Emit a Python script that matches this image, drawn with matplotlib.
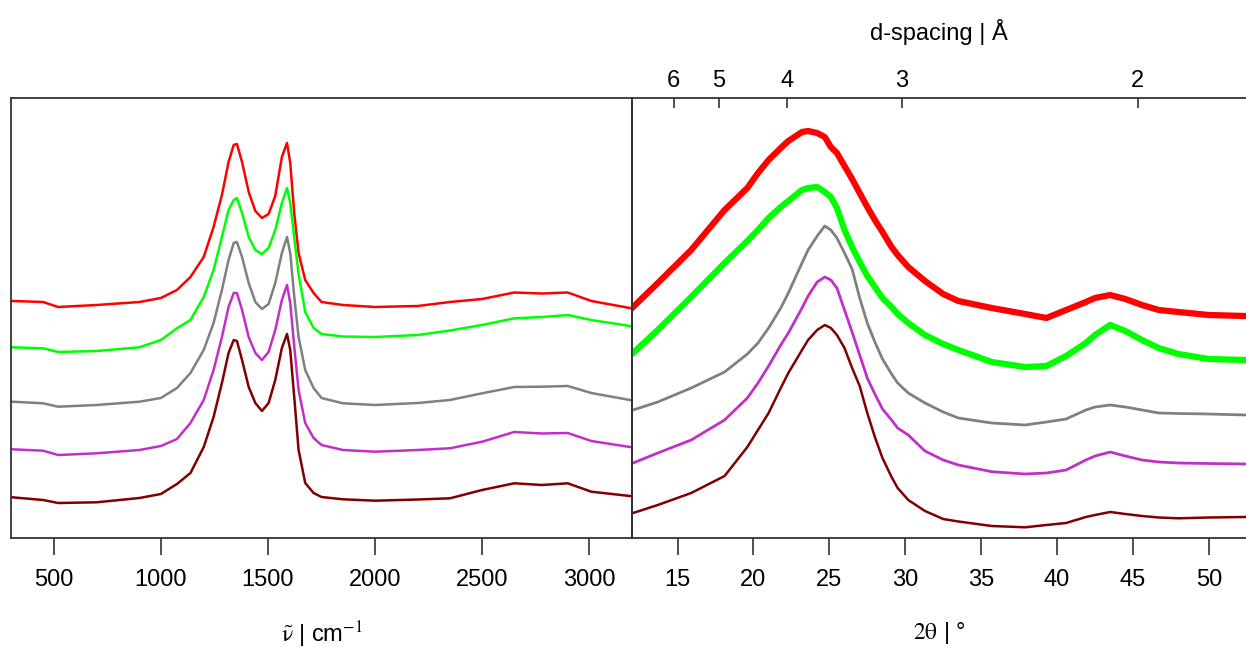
import numpy as np
import matplotlib
matplotlib.use('Agg')
import matplotlib.pyplot as plt

plt.rcParams['font.family'] = ['Liberation Sans', 'DejaVu Sans']
plt.rcParams['mathtext.fontset'] = 'stix'

# Raman spectra (left panel), arbitrary units, curves stacked
wavenumber = [305, 450, 520, 700, 900, 1000, 1075, 1138, 1200, 1246, 1285, 1316,
              1340, 1355, 1379, 1410, 1441, 1472, 1503, 1534, 1565, 1589, 1604,
              1623, 1643, 1674, 1713, 1750, 1850, 2000, 2200, 2350, 2500, 2650,
              2780, 2900, 3010, 3190]
raman_red = [237, 236, 231, 233, 236, 240, 248, 261, 281, 311, 343, 376,
             393, 394, 376, 346, 327, 320, 324, 342, 381, 395, 375,
             324, 285, 258, 245, 236, 233, 231, 232, 236, 239, 245.5,
             244.5, 245.5, 237, 230]
raman_green = [190.7, 189.7, 186, 187, 190.7, 198, 209.7, 218, 241, 268, 301, 328,
               338, 340, 325, 301, 288, 284, 290, 308, 335, 350, 335,
               300, 264, 226, 210, 204, 201.5, 201, 203, 207.5, 213, 219.7,
               221, 223, 218, 212]
raman_grey = [136.3, 134.7, 131.3, 133, 136.3, 140, 150, 165, 188, 215, 248, 278,
              295, 296, 281, 255, 236, 229, 234, 255, 285, 301, 285,
              241, 201, 168, 150, 140, 134.7, 133, 135, 138, 144.7, 151,
              151.3, 152, 145, 138]
raman_magenta = [88.7, 87.3, 83, 84.7, 88, 92, 99, 115, 138, 168, 201, 231,
                 245, 245, 228, 201, 185, 178, 186, 208, 238, 253, 235,
                 191, 148, 115, 100, 93, 88, 86.3, 88, 89.7, 96.3, 106,
                 104.5, 105, 97, 91]
raman_darkred = [40.7, 38, 35, 35.7, 40, 44, 54, 65, 91, 121, 155, 185,
                 198, 197, 178, 151, 135, 127, 135, 158, 190, 204, 188,
                 140, 88, 55, 45, 41, 38.7, 37.3, 38.5, 39.7, 48, 54.7,
                 53, 54.7, 46.3, 42]

# XRD patterns (right panel)
two_theta = [12.07, 13.7, 15.9, 18.1, 19.6, 20.3, 21.0, 21.8, 22.3, 23.2, 23.6,
             24.2, 24.7, 25.1, 25.5, 26.0, 26.5, 27.0, 27.5, 28.0, 28.5, 29.1,
             29.5, 30.2, 31.3, 32.5, 33.5, 35.7, 37.9, 39.3, 40.6, 41.9, 42.5,
             43.5, 44.5, 45.6, 46.7, 48.0, 50.0, 52.4]
xrd_red = [231, 255, 288, 328, 350, 365, 378, 390, 397, 406, 407,
           405, 401, 391, 385, 372, 359, 345, 331, 318, 306, 291,
           283, 271, 257, 244, 237, 230, 224, 220, 228, 236, 240,
           243, 239, 233, 228, 226, 223, 222]
xrd_green = [185, 208, 241, 275, 297, 308, 320, 331, 337, 348, 350,
             351, 346, 341, 330, 308, 291, 276, 262, 251, 240, 231,
             224, 215, 203, 194, 188, 176, 171, 172, 182, 195, 203,
             213, 207, 198, 190, 184, 179, 178]
xrd_grey = [128, 136, 150, 166, 184, 195, 210, 230, 245, 275, 288,
            302, 312, 308, 300, 285, 269, 240, 215, 196, 179, 164,
            155, 145, 135, 126, 120, 115, 113, 116, 119, 128, 131,
            133, 131, 128, 125, 124.5, 124, 123]
xrd_magenta = [75, 85, 98, 118, 140, 155, 172, 193, 205, 230, 242,
               256, 261, 258, 250, 228, 206, 183, 160, 144, 129, 118,
               110, 103, 87, 78, 73, 66.3, 64, 65, 68, 78, 82,
               86, 82, 78, 76, 75, 74.5, 74]
xrd_darkred = [25, 33, 45, 62, 91, 108, 125, 150, 165, 188, 198,
               208, 213, 210, 203, 190, 170, 152, 125, 101, 80, 61,
               50, 38, 27, 19, 16.5, 12, 10.7, 13, 15, 21, 23,
               26, 24, 22, 20.5, 19.7, 20.5, 21]

colors = ['#ff0000', '#00ff00', '#808080', '#c030c8', '#800000']
raman = [raman_red, raman_green, raman_grey, raman_magenta, raman_darkred]
xrd = [xrd_red, xrd_green, xrd_grey, xrd_magenta, xrd_darkred]
xrd_lw = [4.5, 4.5, 2.0, 2.0, 1.8]

d_ticks = [6, 5, 4, 3, 2]
wavelength = 1.5406  # Cu K-alpha, Bragg's law for the top axis
d_pos = [2 * np.degrees(np.arcsin(wavelength / (2 * d))) for d in d_ticks]

fig = plt.figure(figsize=(12.46, 6.67), dpi=100)
ax1 = fig.add_axes([11 / 1246, 129 / 667, 621 / 1246, 440 / 667])
ax2 = fig.add_axes([632 / 1246, 129 / 667, 614 / 1246, 440 / 667])
ax2.patch.set_alpha(0)

for y, c in zip(raman, colors):
    ax1.plot(wavenumber, y, color=c, lw=1.8)
for y, c, lw in zip(xrd, colors, xrd_lw):
    ax2.plot(two_theta, y, color=c, lw=lw)

ax1.set_xlim(300, 3200)
ax1.set_ylim(0, 440)
ax2.set_xlim(12, 52.45)
ax2.set_ylim(0, 440)

for ax in (ax1, ax2):
    for s in ax.spines.values():
        s.set_color('#333333')
        s.set_linewidth(1.3)
    ax.set_yticks([])
    ax.tick_params(axis='x', direction='out', length=12, width=1.2, pad=10,
                   labelsize=17, color='#333333')
ax2.spines['right'].set_visible(False)

ax1.set_xticks([500, 1000, 1500, 2000, 2500, 3000])
ax2.set_xticks([15, 20, 25, 30, 35, 40, 45, 50])

ax1.set_xlabel(r'$\mathrm{\tilde{\nu}}$ | cm$^{-1}$', fontsize=17, labelpad=21)
ax2.set_xlabel(r'$\mathrm{2\theta}$ | °', fontsize=17, labelpad=21)

top = ax2.twiny()
top.set_xlim(ax2.get_xlim())
top.set_xticks(d_pos)
top.set_xticklabels([str(d) for d in d_ticks])
top.tick_params(axis='x', direction='in', length=7, width=1.2, pad=4,
                labelsize=17, color='#333333')
for s in top.spines.values():
    s.set_visible(False)
top.set_xlabel('d-spacing | Å', fontsize=17, labelpad=22)

fig.savefig('out.png', dpi=100)
